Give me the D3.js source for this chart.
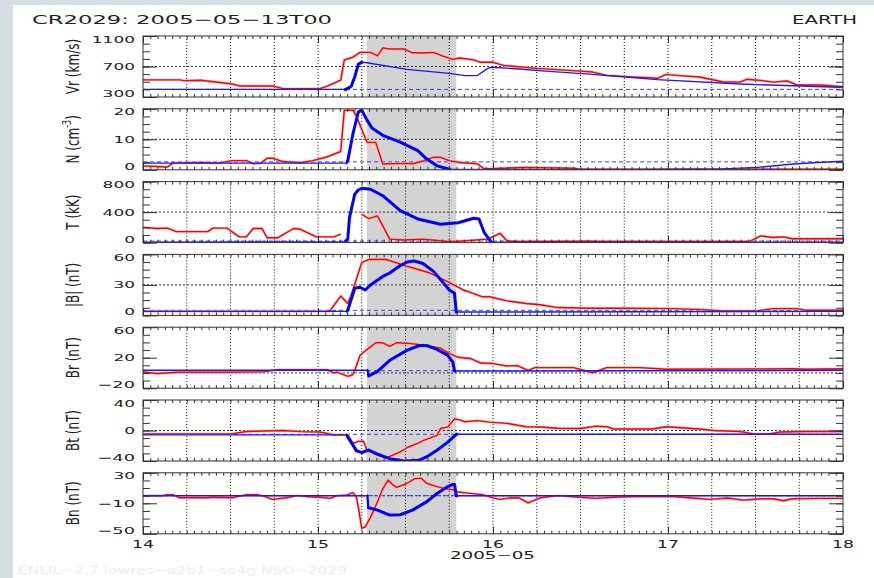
<!DOCTYPE html>
<html>
<head>
<meta charset="utf-8">
<script src="https://cdn.jsdelivr.net/npm/d3@7"></script>
<style>
  html, body { margin: 0; padding: 0; background: #d5dee3; }
  svg { display: block; }
  text { font-family: "DejaVu Sans", sans-serif; fill: #222; }
</style>
</head>
<body>
<svg id="chart" width="874" height="578"></svg>
<script>
// ---- data (time in day of May 2005) ----
const dayTicks = [14, 15, 16, 17, 18];
const cmeWindow = [15.28, 15.79];

const panelLabels = ["Vr (km/s)", "N (cm", "T (kK)", "|B| (nT)", "Br (nT)", "Bt (nT)", "Bn (nT)"];
const panelDomains = [[300, 1100], [0, 20], [0, 800], [0, 60], [-20, 60], [-40, 40], [-50, 30]];
const panelTicks = [[300, 700, 1100], [0, 10, 20], [0, 400, 800], [0, 30, 60], [-20, 20, 60], [-40, 0, 40], [-50, -10, 30]];
const minorSteps = [100, 2.5, 100, 7.5, 10, 10, 10];
const gridLevels = [700, 10, 400, 30, 0, 0, 0];
const refLevels = [400, 2.6, 20, 5, 3, -5, 0];

// observed (red)
const vrObs = [[14.00,525],[14.21,525],[14.23,515],[14.33,520],[14.51,470],[14.55,445],[14.74,445],[14.80,410],[15.01,410],[15.05,440],[15.13,520],[15.15,785],[15.20,822],[15.24,885],[15.30,885],[15.34,840],[15.37,945],[15.41,930],[15.49,930],[15.54,880],[15.60,878],[15.66,885],[15.71,840],[15.77,794],[15.81,812],[15.89,787],[15.93,755],[16.00,755],[16.06,715],[16.25,676],[16.50,640],[16.57,627],[16.65,584],[16.77,567],[16.94,545],[16.99,597],[17.07,580],[17.18,562],[17.31,500],[17.41,495],[17.45,532],[17.54,515],[17.60,495],[17.68,510],[17.74,457],[17.87,457],[17.94,445],[18.00,435]];
const nObs = [[14.00,1.3],[14.14,0.9],[14.17,2.2],[14.33,2.4],[14.43,2.2],[14.51,3.0],[14.59,3.0],[14.63,2.0],[14.67,2.1],[14.71,3.8],[14.74,3.8],[14.80,2.7],[14.90,2.3],[14.97,3.0],[15.05,4.2],[15.13,6.0],[15.15,19.5],[15.20,19.5],[15.22,17.5],[15.28,9.0],[15.33,9.0],[15.37,1.9],[15.49,2.1],[15.54,2.0],[15.60,2.9],[15.66,4.1],[15.70,4.1],[15.75,3.0],[15.81,2.4],[15.91,2.0],[15.95,0.3],[16.19,0.8],[16.46,0.5],[16.50,0.2],[18.00,0.2]];
const tObs = [[14.00,200],[14.08,185],[14.14,190],[14.19,144],[14.37,144],[14.40,190],[14.48,190],[14.55,75],[14.59,75],[14.63,185],[14.68,185],[14.71,63],[14.77,63],[14.86,185],[14.90,175],[14.99,75],[15.09,75],[15.13,110],[15.19,null],[15.25,372],[15.29,315],[15.34,350],[15.41,45],[15.49,35],[15.60,45],[15.74,15],[15.79,15],[15.97,45],[16.04,122],[16.08,22],[16.15,15],[16.57,18],[16.62,15],[17.41,15],[17.47,20],[17.53,88],[17.60,66],[17.66,75],[17.71,50],[18.00,50]];
const bObs = [[14.00,4],[15.05,4],[15.07,5],[15.13,19],[15.17,11.7],[15.19,20],[15.25,52],[15.29,55],[15.39,55],[15.51,48.3],[15.64,41.7],[15.74,33.3],[15.83,25],[15.87,22.7],[15.94,18.3],[15.98,18.3],[16.08,14.3],[16.19,11.7],[16.27,10.5],[16.37,7.7],[16.55,7],[16.74,7],[17.03,6.7],[17.20,5.7],[17.31,4.3],[17.51,4.5],[17.60,6.7],[17.74,6.7],[17.79,5],[18.00,5]];
const brObs = [[14.00,1.3],[14.08,-0.8],[14.20,1],[14.50,1],[14.69,1.5],[14.77,4.4],[15.05,4.4],[15.09,0],[15.11,1],[15.17,-4.5],[15.20,-2],[15.21,3.5],[15.24,23],[15.27,29],[15.33,39.7],[15.37,39.6],[15.41,35],[15.45,39.7],[15.51,39],[15.57,37.5],[15.64,35],[15.70,32.5],[15.75,25.6],[15.80,20.5],[15.87,19],[15.93,13],[16.00,12.3],[16.08,9.2],[16.14,9.5],[16.20,3.5],[16.24,7],[16.46,7],[16.57,0.3],[16.65,7],[16.84,7],[16.99,4.8],[17.71,5.5],[17.79,4.8],[18.00,5.5]];
const btObs = [[14.00,-4.4],[14.51,-4.4],[14.59,-1.3],[14.80,0],[14.90,-1.5],[15.01,-2],[15.09,-5.8],[15.17,-5.8],[15.20,-17],[15.23,-14.3],[15.26,-14],[15.28,-26],[15.34,-32.4],[15.39,-36],[15.47,-28],[15.51,-22.3],[15.58,-16],[15.60,-13.3],[15.68,-6.5],[15.70,2.7],[15.74,4.4],[15.78,15],[15.81,14],[15.84,11.4],[15.91,13],[15.98,11],[16.08,9.3],[16.19,4.9],[16.27,4.5],[16.37,3],[16.50,2.7],[16.59,5.8],[16.65,5],[16.69,2],[16.91,2],[16.99,4.9],[17.18,2],[17.26,0],[17.41,-1.3],[17.49,-4.4],[17.58,-4.4],[17.64,-2],[17.79,-1.3],[18.00,-1.3]];
const bnObs = [[14.00,0],[14.11,0],[14.14,1.4],[14.17,1.4],[14.21,-2.8],[14.37,-2.8],[14.40,-2],[14.51,-2.8],[14.59,1.4],[14.65,1.4],[14.69,-0.5],[14.74,-4.9],[14.82,-2.8],[14.88,0],[14.95,-1.5],[15.01,-2],[15.07,-3.5],[15.11,0],[15.16,0.5],[15.20,4],[15.22,-2],[15.23,-14.6],[15.25,-43],[15.27,-41],[15.30,-28.5],[15.34,-8],[15.37,9],[15.40,20.4],[15.43,13.8],[15.45,11],[15.51,16.3],[15.55,22],[15.59,23],[15.62,16.3],[15.68,11.8],[15.73,9],[15.77,8],[15.79,5.1],[15.87,3],[15.94,1.4],[16.00,-2.8],[16.04,-4.9],[16.10,-2.8],[16.15,-3],[16.20,-9.4],[16.27,-2.8],[16.37,0],[16.50,-2],[16.59,-3.5],[16.69,-2],[16.80,-1],[17.03,-1],[17.14,-3],[17.24,-4.9],[17.34,-3],[17.43,-5.9],[17.53,-4],[17.60,-4],[17.66,-6.6],[17.71,-4],[17.85,-3.5],[18.00,-3.5]];

// model (blue)
const vrMod = [[14.00,400],[15.16,400],[15.19,440],[15.21,566],[15.23,728],[15.25,755],[15.27,752],[15.51,662],[15.75,610],[15.84,580],[15.91,582],[15.97,676],[15.99,690],[16.15,668],[16.30,640],[16.55,600],[16.94,528],[17.41,470],[17.98,427],[18.00,425]];
const nMod = [[14.00,2.2],[15.16,2.2],[15.17,3.0],[15.20,11.9],[15.23,18.9],[15.25,19.6],[15.28,16.3],[15.31,13.6],[15.37,11.3],[15.47,9.1],[15.57,6.3],[15.62,3.6],[15.68,1.3],[15.75,0.2],[16.83,0.0],[17.31,0.3],[17.51,0.8],[17.70,1.8],[17.85,2.4],[18.00,2.8]];
const tMod = [[14.00,5],[15.15,10],[15.17,45],[15.18,330],[15.21,635],[15.23,690],[15.25,712],[15.30,700],[15.37,615],[15.47,418],[15.57,310],[15.70,240],[15.80,260],[15.89,320],[15.92,310],[15.95,130],[15.99,5],[18.00,5]];
const bMod = [[14.00,4],[15.16,4],[15.17,5],[15.21,26.7],[15.24,27.7],[15.27,25],[15.30,30],[15.37,38.3],[15.41,41.7],[15.47,49],[15.51,52.5],[15.55,53.5],[15.60,51],[15.66,43.3],[15.71,33.3],[15.75,25],[15.78,21.7],[15.79,3.3],[16.11,3.3],[18.00,4]];
const brMod = [[14.00,3.5],[15.28,3.5],[15.29,-4],[15.34,2],[15.41,16.6],[15.51,29.9],[15.58,36],[15.62,36],[15.68,31],[15.74,23.4],[15.77,14.5],[15.78,2.5],[18.00,3.5]];
const btMod = [[14.00,-5.8],[15.16,-5.8],[15.17,-8.6],[15.19,-15.6],[15.22,-26.7],[15.25,-28.9],[15.29,-25.6],[15.34,-31.1],[15.41,-37],[15.49,-40],[15.57,-39.5],[15.62,-34.7],[15.68,-25.8],[15.74,-15.6],[15.79,-5],[18.00,-5]];
const bnMod = [[14.00,0],[15.28,0],[15.285,-15.5],[15.34,-19],[15.41,-25.4],[15.47,-25],[15.54,-19],[15.62,-8.1],[15.68,2.9],[15.74,11.6],[15.77,14.7],[15.78,14.7],[15.79,0],[18.00,0]];

const obsSeries = [vrObs, nObs, tObs, bObs, brObs, btObs, bnObs];
const modSeries = [vrMod, nMod, tMod, bMod, brMod, btMod, bnMod];
// where the model trace is drawn heavier
const heavyWindows = [[15.15, 15.255], [15.16, 15.76], [15.15, 16.0], [15.16, 15.80], [15.28, 15.79], [15.16, 15.80], [15.28, 15.80]];

// ---- layout ----
const margin = { left: 143, top: 36 };
const plotW = 700, panelH = 61, pitch = 72.8;

const svg = d3.select("#chart");
svg.append("rect")
  .attr("x", 13).attr("y", 5)
  .attr("width", 861).attr("height", 573)
  .attr("fill", "#fff");

const x = d3.scaleLinear().domain([14, 18]).range([margin.left, margin.left + plotW]);
const defs = svg.append("defs");

// width of the stretched tick labels
function labelWidth(s) {
  let w = 0;
  for (const c of s) w += (c === "\u2212") ? 16 : 10.8;
  return w;
}

const hourTicks = d3.range(0, 97).map(h => 14 + h / 24);
const gridTimes = d3.range(1, 16).map(k => 14 + k * 0.25);

panelLabels.forEach((label, i) => {
  const top = margin.top + i * pitch, bottom = top + panelH;
  const dom = panelDomains[i];
  const y = d3.scaleLinear().domain(dom).range([bottom, top]);
  const g = svg.append("g");

  defs.append("clipPath").attr("id", "clip" + i)
    .append("rect").attr("x", x(14)).attr("y", top).attr("width", plotW).attr("height", panelH);
  const hw = heavyWindows[i];
  defs.append("clipPath").attr("id", "heavy" + i)
    .append("rect").attr("x", x(hw[0])).attr("y", top).attr("width", x(hw[1]) - x(hw[0])).attr("height", panelH);

  // CME interval shading
  g.append("rect")
    .attr("x", x(cmeWindow[0])).attr("y", top)
    .attr("width", x(cmeWindow[1]) - x(cmeWindow[0])).attr("height", panelH)
    .attr("fill", "#d3d3d3");

  // 6-hour dotted grid
  g.selectAll(".vgrid").data(gridTimes).enter().append("line")
    .attr("x1", d => x(d)).attr("x2", d => x(d))
    .attr("y1", top).attr("y2", bottom)
    .attr("stroke", "#111").attr("stroke-width", 1)
    .attr("stroke-dasharray", "1,2");

  g.append("line")
    .attr("x1", x(14)).attr("x2", x(18))
    .attr("y1", y(gridLevels[i])).attr("y2", y(gridLevels[i]))
    .attr("stroke", "#333").attr("stroke-width", 1)
    .attr("stroke-dasharray", "2,2");

  // ambient reference
  g.append("line")
    .attr("x1", x(14)).attr("x2", x(18))
    .attr("y1", y(refLevels[i])).attr("y2", y(refLevels[i]))
    .attr("stroke", "#3344ff").attr("stroke-width", 1)
    .attr("stroke-dasharray", "4,3");

  const line = d3.line()
    .defined(d => d[1] !== null)
    .x(d => x(d[0]))
    .y(d => y(d[1]));

  const lines = g.append("g").attr("clip-path", "url(#clip" + i + ")");
  lines.append("path")
    .attr("d", line(obsSeries[i]))
    .attr("fill", "none").attr("stroke", "#ffb0b0")
    .attr("stroke-width", 2.4).attr("stroke-linejoin", "round");
  lines.append("path")
    .attr("d", line(obsSeries[i]))
    .attr("fill", "none").attr("stroke", "#ff0000")
    .attr("stroke-width", 1.4).attr("stroke-linejoin", "round");
  lines.append("path")
    .attr("d", line(modSeries[i]))
    .attr("fill", "none").attr("stroke", "#1a1aff")
    .attr("stroke-width", 1.4).attr("stroke-linejoin", "round");
  lines.append("path")
    .attr("clip-path", "url(#heavy" + i + ")")
    .attr("d", line(modSeries[i]))
    .attr("fill", "none").attr("stroke", "#0000ff")
    .attr("stroke-width", 3).attr("stroke-linejoin", "round");

  // axes with inward ticks
  const minor = d3.range(dom[0], dom[1] + 1e-6, minorSteps[i]);
  const axes = [
    [d3.axisLeft(y).tickValues(minor).tickSize(-7), "translate(" + x(14) + ",0)"],
    [d3.axisLeft(y).tickValues(panelTicks[i]).tickSize(-14), "translate(" + x(14) + ",0)"],
    [d3.axisRight(y).tickValues(minor).tickSize(-7), "translate(" + x(18) + ",0)"],
    [d3.axisRight(y).tickValues(panelTicks[i]).tickSize(-14), "translate(" + x(18) + ",0)"],
    [d3.axisTop(x).tickValues(hourTicks).tickSize(-3), "translate(0," + top + ")"],
    [d3.axisTop(x).tickValues(dayTicks).tickSize(-7), "translate(0," + top + ")"],
    [d3.axisBottom(x).tickValues(hourTicks).tickSize(-3), "translate(0," + bottom + ")"],
    [d3.axisBottom(x).tickValues(dayTicks).tickSize(-7), "translate(0," + bottom + ")"]
  ];
  axes.forEach(([ax, tr]) => {
    const a = g.append("g").attr("transform", tr).attr("color", "#333")
      .call(ax.tickFormat(""));
    a.select(".domain").remove();
    a.selectAll("text").remove();
  });

  g.append("rect")
    .attr("x", x(14)).attr("y", top)
    .attr("width", plotW).attr("height", panelH)
    .attr("fill", "none").attr("stroke", "#333").attr("stroke-width", 1);

  // y tick labels
  panelTicks[i].forEach((v, k) => {
    const s = String(v).replace("-", "\u2212");
    const base = k === 0 ? y(v) : (k === 2 ? y(v) + 6.5 : y(v) + 3.5);
    g.append("text")
      .attr("x", 135).attr("y", base)
      .attr("text-anchor", "end")
      .attr("font-size", "9.5px")
      .attr("textLength", labelWidth(s))
      .attr("lengthAdjust", "spacingAndGlyphs")
      .text(s);
  });

  // rotated panel label, stretched like the rest of the figure
  const lab = g.append("text")
    .attr("transform", "translate(73.5," + (top + panelH / 2) + ") scale(1.5,1) rotate(-90)")
    .attr("text-anchor", "middle")
    .attr("dominant-baseline", "central")
    .attr("font-size", "12px")
    .text(label);
  if (i === 1) {
    lab.append("tspan").attr("font-size", "8px").attr("dy", -5).text("-3");
    lab.append("tspan").attr("dy", 5).text(")");
  }
});

// x tick labels under the last panel
const lastBottom = margin.top + 6 * pitch + panelH;
dayTicks.forEach(d => {
  svg.append("text")
    .attr("x", x(d)).attr("y", lastBottom + 14.5)
    .attr("text-anchor", "middle")
    .attr("font-size", "10px")
    .attr("textLength", 22)
    .attr("lengthAdjust", "spacingAndGlyphs")
    .text(d);
});
svg.append("text")
  .attr("x", 492.5).attr("y", 559)
  .attr("text-anchor", "middle")
  .attr("font-size", "10px")
  .attr("textLength", 85)
  .attr("lengthAdjust", "spacingAndGlyphs")
  .text("2005\u221205");

// header
svg.append("text")
  .attr("x", 32).attr("y", 24)
  .attr("font-size", "12.5px")
  .attr("textLength", 300)
  .attr("lengthAdjust", "spacingAndGlyphs")
  .text("CR2029:  2005\u221205\u221213T00");
svg.append("text")
  .attr("x", 792).attr("y", 24)
  .attr("font-size", "11.5px")
  .attr("textLength", 65)
  .attr("lengthAdjust", "spacingAndGlyphs")
  .text("EARTH");

// faint run id at the bottom
svg.append("text")
  .attr("x", 18).attr("y", 574)
  .attr("font-size", "11px")
  .attr("textLength", 329)
  .attr("lengthAdjust", "spacingAndGlyphs")
  .style("fill", "#eeeeee")
  .text("ENLIL\u22122.7  lowres\u2212a2b1\u2212so4g    NSO\u22122029");
</script>
</body>
</html>
